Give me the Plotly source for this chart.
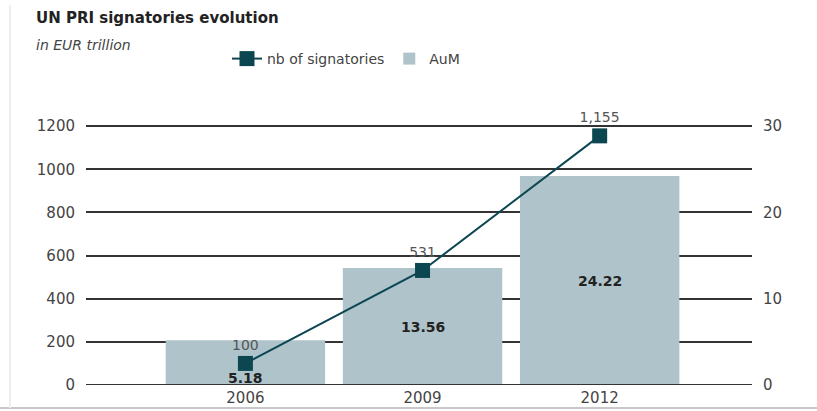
import plotly.graph_objects as go

years = ["2006", "2009", "2012"]
signatories = [100, 531, 1155]
signatory_labels = ["100", "531", "1,155"]
aum = [5.18, 13.56, 24.22]
aum_labels = ["5.18", "13.56", "24.22"]
left_ticks = [0, 200, 400, 600, 800, 1000, 1200]
right_grid = [0, 5, 10, 15, 20, 25, 30]
right_text = ["0", "", "10", "", "20", "", "30"]

FONT = "DejaVu Sans, Arial, sans-serif"
BAR_COLOR = "#afc3ca"
LINE_COLOR = "#0c4751"
GRID = "#333333"
TXT = "#444444"

W, H = 817, 411
ML, MR, MT, MB = 86, 65, 124, 26
PW = W - ML - MR
PH = H - MT - MB

fig = go.Figure()

fig.add_trace(go.Bar(
    x=years, y=aum, name="AuM", yaxis="y",
    marker=dict(color=BAR_COLOR, line=dict(width=0)),
    legendrank=2, hoverinfo="skip",
))

fig.add_trace(go.Scatter(
    x=years, y=signatories, name="nb of signatories", yaxis="y2",
    mode="lines+markers+text",
    line=dict(color=LINE_COLOR, width=2),
    marker=dict(symbol="square", size=15, color=LINE_COLOR),
    text=signatory_labels, textposition="top center",
    textfont=dict(family=FONT, size=14, color="#555555"),
    cliponaxis=False,
    legendrank=1,
))

# bar value labels (x given as category index)
for i, (v, lab) in enumerate(zip(aum, aum_labels)):
    short = v < 8
    fig.add_annotation(
        x=i, y=(0 if short else v / 2), xref="x", yref="y",
        text=f"<b>{lab}</b>", showarrow=False,
        yanchor=("bottom" if short else "middle"), yshift=(-3 if short else 0),
        font=dict(family=FONT, size=14, color="#222222"),
    )

# titles (pixel positions converted to paper units)
fig.add_annotation(x=(34 - ML) / PW, y=(H - 18 - MB) / PH, xref="paper", yref="paper",
                   showarrow=False, text="<b>UN PRI signatories evolution</b>",
                   xanchor="left", yanchor="middle",
                   font=dict(family=FONT, size=15, color="#222222"))
fig.add_annotation(x=(34 - ML) / PW, y=(H - 45 - MB) / PH, xref="paper", yref="paper",
                   showarrow=False, text="<i>in EUR trillion</i>",
                   xanchor="left", yanchor="middle",
                   font=dict(family=FONT, size=14, color="#444444"))

fig.update_layout(
    width=W, height=H,
    margin=dict(l=ML, r=MR, t=MT, b=MB, autoexpand=False),
    paper_bgcolor="white", plot_bgcolor="white",
    bargap=0.1,
    showlegend=True,
    legend=dict(orientation="h", xref="container", yref="container",
                x=227 / W, y=1 - 59 / H, xanchor="left", yanchor="middle",
                font=dict(family=FONT, size=14, color=TXT), bgcolor="rgba(0,0,0,0)",
                itemwidth=30),
    xaxis=dict(type="category", range=[-0.9, 2.86], showgrid=False, zeroline=False,
               showline=False, ticks="", tickfont=dict(family=FONT, size=15, color=TXT),
               ticklabelstandoff=2),
    yaxis=dict(range=[0, 30.25], tickvals=right_grid, ticktext=right_text, side="right",
               showgrid=True, gridcolor=GRID, gridwidth=2, zeroline=False,
               showline=False, ticks="",
               tickfont=dict(family=FONT, size=15, color=TXT), ticklabelstandoff=10),
    yaxis2=dict(range=[0, 1210], tickvals=left_ticks, overlaying="y", side="left",
                showgrid=False, zeroline=False, showline=False, ticks="",
                tickfont=dict(family=FONT, size=15, color=TXT), ticklabelstandoff=10),
    font=dict(family=FONT),
    shapes=[
        dict(type="line", xref="paper", yref="y", x0=0, x1=1, y0=0, y1=0,
             line=dict(color=GRID, width=2), layer="above"),
        dict(type="line", xref="paper", yref="paper", x0=-ML / PW, x1=1 + MR / PW,
             y0=-(408 - (H - MB)) / PH, y1=-(408 - (H - MB)) / PH,
             line=dict(color="#c8c8c8", width=2)),
        dict(type="line", xref="paper", yref="paper", x0=-(ML - 10) / PW,
             x1=-(ML - 10) / PW, y0=-(408 - (H - MB)) / PH, y1=1 + (MT - 5) / PH,
             line=dict(color="#eeeeee", width=2)),
    ],
)

fig.write_html("out.html", config={"displayModeBar": False},
               post_script="document.body.style.margin='0';document.body.style.overflow='hidden';")
